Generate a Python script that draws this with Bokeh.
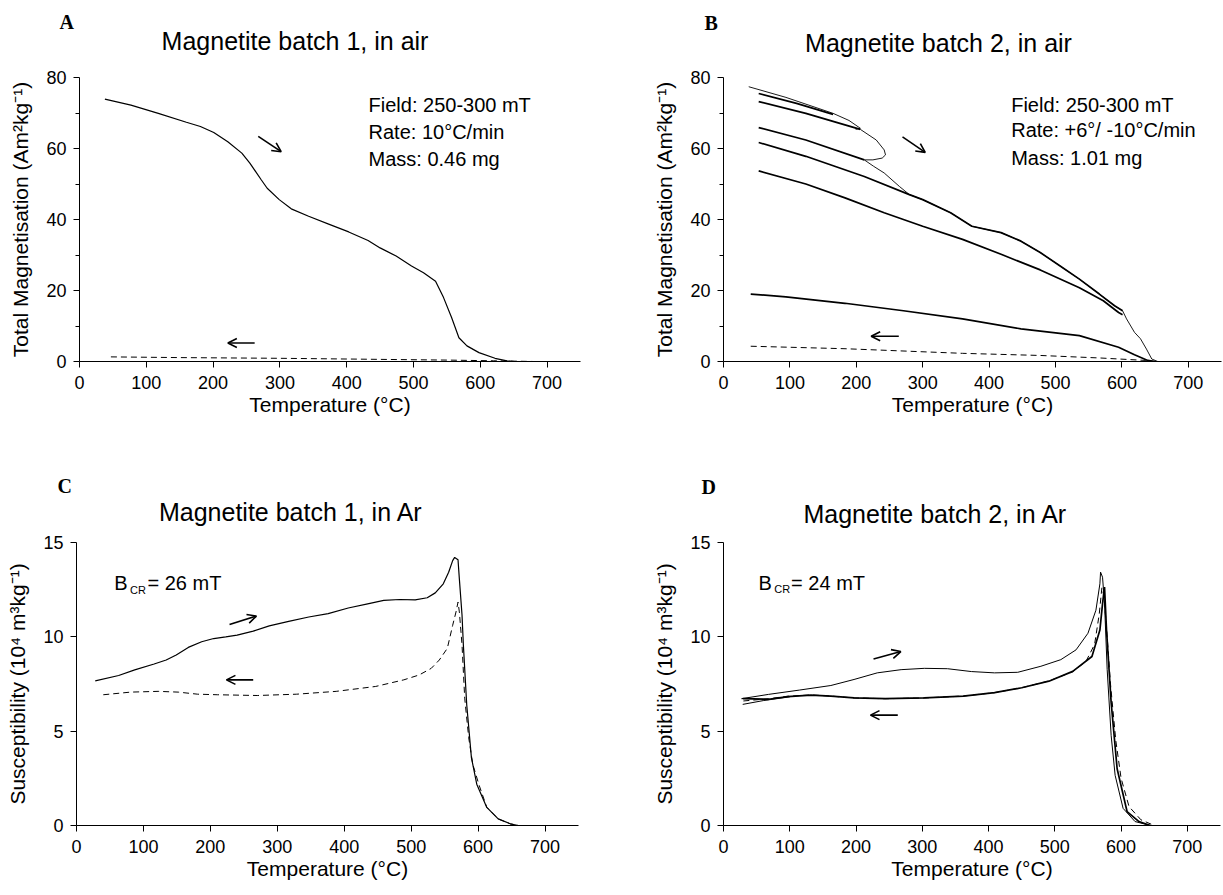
from bokeh.plotting import figure
from bokeh.models import Range1d, FixedTicker, Label, Arrow, OpenHead
from bokeh.layouts import column, row
from bokeh.embed import file_html
from bokeh.resources import INLINE

# ---------------- data ----------------
x_ticks = [0, 100, 200, 300, 400, 500, 600, 700]
mag_ticks = [0, 20, 40, 60, 80]
mag_minor = [10, 30, 50, 70]
sus_ticks = [0, 5, 10, 15]

# Panel A: magnetite batch 1, in air
a_heat_T = [38, 77, 118, 160, 181, 201, 222, 243, 255, 272, 281, 299, 317, 343, 373, 403, 432, 450,
            474, 497, 515, 533, 545, 557, 568, 580, 598, 622, 640, 651, 700]
a_heat_M = [73.9, 72.2, 69.9, 67.4, 66.2, 64.5, 61.9, 58.7, 55.9, 51.2, 48.8, 45.6, 43.0, 40.9, 38.7,
            36.5, 34.1, 32.0, 29.7, 26.9, 25.0, 22.6, 18.0, 12.4, 6.7, 4.4, 2.5, 0.9, 0.2, 0.0, 0.0]
a_cool_T = [47, 150, 300, 450, 550, 620, 680]
a_cool_M = [1.3, 1.1, 0.9, 0.6, 0.4, 0.2, 0.0]

# Panel B: magnetite batch 2, in air (stepwise heating = thin, cooling = thick)
b_heat1_T = [38, 94, 165, 189, 206, 199]
b_heat1_M = [77.4, 74.4, 69.9, 67.9, 65.7, 65.4]
b_heat2_T = [206, 230, 242, 244, 239, 225, 212, 226, 242, 265, 280, 300, 342, 374, 418, 448, 477, 507,
             536, 566, 589, 601, 607, 619, 628, 637, 645, 654, 700]
b_heat2_M = [65.4, 62.4, 59.6, 58.2, 57.3, 56.8, 56.8, 55.0, 53.1, 49.3, 47.0, 45.6, 41.9, 38.1, 36.3,
             33.9, 30.7, 26.9, 23.2, 19.0, 15.7, 14.3, 12.0, 8.2, 6.4, 3.5, 0.7, 0.0, 0.0]
b_cool1_T = [53, 110, 165]
b_cool1_M = [75.5, 72.7, 69.6]
b_cool2_T = [53, 124, 206]
b_cool2_M = [73.2, 69.9, 65.4]
b_cool3_T = [53, 124, 212]
b_cool3_M = [65.9, 62.4, 56.8]
b_cool4_T = [53, 124, 212, 280, 300, 342, 374, 418, 448, 477, 507, 536, 566, 589, 601]
b_cool4_M = [61.7, 57.8, 52.1, 47.0, 45.6, 41.9, 38.1, 36.3, 33.9, 30.7, 26.9, 23.2, 19.0, 15.7, 14.3]
b_cool5_T = [53, 124, 183, 242, 300, 360, 418, 477, 536, 572, 595, 601]
b_cool5_M = [53.7, 50.0, 46.1, 41.9, 38.1, 34.4, 30.2, 25.8, 20.8, 17.1, 13.8, 13.2]
b_cool6_T = [41, 94, 183, 271, 360, 448, 536, 595, 619, 639, 650]
b_cool6_M = [19.0, 18.2, 16.4, 14.3, 12.0, 9.2, 7.3, 4.0, 1.9, 0.3, 0.0]
b_final_T = [41, 183, 360, 477, 566, 636, 650]
b_final_M = [4.3, 3.6, 2.3, 1.7, 1.0, 0.3, 0.0]

# Panel C: magnetite batch 1, in Ar
c_heat_T = [28, 63, 87, 116, 134, 149, 167, 187, 205, 223, 240, 264, 288, 317, 347, 376, 406, 435, 459,
            483, 506, 524, 536, 548, 556, 562, 565, 570, 572, 576, 578, 583, 590, 598, 613, 630, 648, 660]
c_heat_S = [7.67, 7.95, 8.25, 8.56, 8.77, 9.04, 9.44, 9.74, 9.91, 10.0, 10.09, 10.3, 10.58, 10.82, 11.05,
            11.23, 11.53, 11.75, 11.93, 11.98, 11.96, 12.07, 12.33, 12.81, 13.42, 14.04, 14.21, 14.09,
            13.07, 11.14, 9.56, 6.4, 3.6, 2.19, 0.96, 0.35, 0.09, 0.0]
c_cool_T = [40, 81, 122, 152, 181, 211, 270, 329, 388, 447, 489, 512, 530, 542, 554, 562, 567, 570, 572,
            576, 580, 586, 592, 601, 613, 630, 648, 660]
c_cool_S = [6.93, 7.07, 7.11, 7.07, 6.96, 6.93, 6.89, 6.96, 7.11, 7.37, 7.72, 7.98, 8.33, 8.77, 9.39,
            10.61, 11.32, 11.84, 11.32, 9.56, 6.75, 4.65, 3.25, 2.19, 0.96, 0.35, 0.09, 0.0]

# Panel D: magnetite batch 2, in Ar
d_heat1_T = [27, 68, 115, 162, 197, 232, 268, 303, 338, 374, 409, 444, 479, 509, 532, 550, 562, 568, 569,
             572, 575, 579, 585, 591, 603, 621, 644, 703]
d_heat1_S = [6.72, 6.95, 7.18, 7.42, 7.74, 8.09, 8.26, 8.33, 8.31, 8.16, 8.09, 8.12, 8.44, 8.79, 9.31,
             10.19, 11.41, 12.81, 13.43, 13.16, 11.76, 8.26, 4.76, 2.66, 0.91, 0.21, 0.0, 0.0]
d_heat2_T = [29, 60, 100]
d_heat2_S = [6.42, 6.62, 6.82]
d_cool_T = [29, 68, 97, 132, 162, 197, 244, 303, 362, 409, 450, 491, 527, 556, 568, 572, 575, 578, 585,
            594, 609, 627, 644]
d_cool_S = [6.72, 6.69, 6.83, 6.91, 6.86, 6.76, 6.72, 6.76, 6.86, 7.04, 7.30, 7.65, 8.17, 8.96, 10.36,
            11.76, 12.64, 10.36, 6.51, 3.01, 0.74, 0.21, 0.0]
d_dash_T = [30, 68, 97, 132, 162, 197, 244, 303, 362, 409, 450, 491, 527, 547, 560, 567, 571, 574, 578,
            584, 592, 600, 612, 630, 650]
d_dash_S = [6.6, 6.72, 6.85, 6.92, 6.86, 6.76, 6.72, 6.76, 6.86, 7.04, 7.3, 7.66, 8.15, 8.7, 9.6, 11.2,
            12.6, 12.2, 10.5, 7.5, 4.5, 2.5, 1.0, 0.3, 0.0]

# ---------------- styling helpers ----------------
SANS = "Liberation Sans"
SERIF = "Liberation Serif"
PAGE_W = 1222


def make_fig(width, height, mbl, mbr, mbt, mbb, ymax, yticks, yminor, ylabel):
    p = figure(width=width, height=height, x_range=Range1d(0, 750), y_range=Range1d(0, ymax),
               output_backend="svg", toolbar_location=None, title=None,
               min_border_left=mbl, min_border_right=mbr, min_border_top=mbt, min_border_bottom=mbb)
    p.outline_line_color = None
    p.grid.visible = False
    p.background_fill_color = "white"
    p.border_fill_color = "white"
    p.xaxis.ticker = FixedTicker(ticks=x_ticks, minor_ticks=[])
    p.yaxis.ticker = FixedTicker(ticks=yticks, minor_ticks=yminor)
    for ax in p.axis:
        ax.axis_line_color = "black"
        ax.axis_line_width = 1
        ax.major_tick_line_color = "black"
        ax.minor_tick_line_color = "black"
        ax.major_tick_in = 0
        ax.major_tick_out = 6
        ax.minor_tick_in = 0
        ax.minor_tick_out = 4
        ax.major_label_text_font = SANS
        ax.major_label_text_font_size = "18px"
        ax.major_label_text_color = "black"
        ax.axis_label_text_font = SANS
        ax.axis_label_text_font_size = "21px"
        ax.axis_label_text_font_style = "normal"
        ax.axis_label_text_color = "black"
    p.xaxis.major_label_standoff = 8
    p.xaxis.axis_label_standoff = 1
    p.yaxis.major_label_standoff = 7
    p.yaxis.axis_label_standoff = 11
    p.xaxis.axis_label = "Temperature (°C)"
    p.yaxis.axis_label = ylabel
    return p


def make_header(height):
    h = figure(width=PAGE_W, height=height, x_range=Range1d(0, PAGE_W), y_range=Range1d(height, 0),
               x_axis_type=None, y_axis_type=None, output_backend="svg", toolbar_location=None,
               title=None, min_border=0)
    h.outline_line_color = None
    h.grid.visible = False
    h.background_fill_color = "white"
    h.border_fill_color = "white"
    return h


def add_text(p, x, y, text, size, font=SANS, style="normal", align="left"):
    # y is the vertical middle of the text line
    p.add_layout(Label(x=x, y=y, text=text, text_font=font, text_font_size=size,
                       text_font_style=style, text_color="black", text_align=align,
                       text_baseline="middle"))


def add_arrow(p, x0, y0, x1, y1):
    p.add_layout(Arrow(end=OpenHead(size=9, line_width=1.6, line_color="black"),
                       x_start=x0, y_start=y0, x_end=x1, y_end=y1,
                       line_width=1.6, line_color="black"))


MAG_LABEL = "Total Magnetisation (Am²kg⁻¹)"
SUS_LABEL = "Susceptibility (10⁴ m³kg⁻¹)"
TITLE_SIZE = "25px"
LETTER_SIZE = "20px"

# ---------------- headers (panel letters and titles) ----------------
h1 = make_header(60)
add_text(h1, 59, 21.3, "A", LETTER_SIZE, font=SERIF, style="bold")
add_text(h1, 294.5, 40.3, "Magnetite batch 1, in air", TITLE_SIZE, align="center")
add_text(h1, 704, 22.3, "B", LETTER_SIZE, font=SERIF, style="bold")
add_text(h1, 938, 42.3, "Magnetite batch 2, in air", TITLE_SIZE, align="center")

h2 = make_header(60)
add_text(h2, 57, 15.3, "C", LETTER_SIZE, font=SERIF, style="bold")
add_text(h2, 290.5, 41.3, "Magnetite batch 1, in Ar", TITLE_SIZE, align="center")
add_text(h2, 701, 16.3, "D", LETTER_SIZE, font=SERIF, style="bold")
add_text(h2, 935, 43.3, "Magnetite batch 2, in Ar", TITLE_SIZE, align="center")

# ---------------- Panel A ----------------
pA = make_fig(650, 410, 79, 70, 16, 109, 80, mag_ticks, mag_minor, MAG_LABEL)
pA.line(a_heat_T, a_heat_M, line_color="black", line_width=1.2)
pA.line(a_cool_T, a_cool_M, line_color="black", line_width=1, line_dash="6 4")
add_text(pA, 432.7, 72.35, "Field: 250-300 mT", "20px")
add_text(pA, 432.7, 64.75, "Rate: 10°C/min", "20px")
add_text(pA, 432.7, 57.15, "Mass: 0.46 mg", "20px")
add_arrow(pA, 267.6, 63.4, 301.9, 59.1)
add_arrow(pA, 262.2, 5.2, 222.1, 5.2)

# ---------------- Panel B ----------------
pB = make_fig(572, 410, 73, 1, 17, 108, 80, mag_ticks, mag_minor, MAG_LABEL)
for T, M in [(b_heat1_T, b_heat1_M), (b_heat2_T, b_heat2_M)]:
    pB.line(T, M, line_color="black", line_width=0.9)
for T, M in [(b_cool1_T, b_cool1_M), (b_cool2_T, b_cool2_M), (b_cool3_T, b_cool3_M),
             (b_cool4_T, b_cool4_M), (b_cool5_T, b_cool5_M), (b_cool6_T, b_cool6_M)]:
    pB.line(T, M, line_color="black", line_width=1.7)
pB.line(b_final_T, b_final_M, line_color="black", line_width=1, line_dash="6 4")
add_text(pB, 433.3, 72.25, "Field: 250-300 mT", "20px")
add_text(pB, 433.3, 65.25, "Rate: +6°/ -10°C/min", "20px")
add_text(pB, 433.3, 57.35, "Mass: 1.01 mg", "20px")
add_arrow(pB, 269.6, 63.3, 303.8, 58.9)
add_arrow(pB, 264.0, 7.1, 222.4, 7.1)

# ---------------- Panel C ----------------
pC = make_fig(650, 364, 76, 72, 10, 69, 15, sus_ticks, [], SUS_LABEL)
pC.line(c_heat_T, c_heat_S, line_color="black", line_width=1.2)
pC.line(c_cool_T, c_cool_S, line_color="black", line_width=1, line_dash="6 4")
add_text(pC, 56.3, 12.83, "B", "20px")
add_text(pC, 80.0, 12.5, "CR", "11px")
add_text(pC, 106.0, 12.83, "= 26 mT", "20px")
add_arrow(pC, 228.6, 10.65, 268.8, 11.1)
add_arrow(pC, 264.0, 7.72, 224.0, 7.72)

# ---------------- Panel D ----------------
pD = make_fig(572, 364, 71, 2, 12, 67, 15, sus_ticks, [], SUS_LABEL)
pD.line(d_heat1_T, d_heat1_S, line_color="black", line_width=1.0)
pD.line(d_heat2_T, d_heat2_S, line_color="black", line_width=1.0)
pD.line(d_cool_T, d_cool_S, line_color="black", line_width=1.7)
pD.line(d_dash_T, d_dash_S, line_color="black", line_width=1, line_dash="6 4")
add_text(pD, 53.0, 12.84, "B", "20px")
add_text(pD, 76.7, 12.51, "CR", "11px")
add_text(pD, 102.0, 12.84, "= 24 mT", "20px")
add_arrow(pD, 226.4, 8.82, 267.6, 9.22)
add_arrow(pD, 263.0, 5.85, 221.8, 5.85)

layout = column(h1, row(pA, pB), h2, row(pC, pD))
open("out.html", "w").write(file_html(layout, INLINE))
